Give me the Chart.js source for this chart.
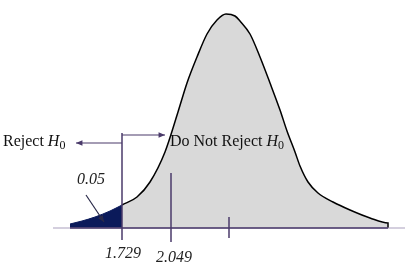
<!DOCTYPE html>
<html>
<head>
<meta charset="utf-8">
<script src="https://cdn.jsdelivr.net/npm/chart.js@4"></script>
<style>
  html, body { margin: 0; padding: 0; background: #fff; }
  #wrap { width: 418px; height: 278px; }
</style>
</head>
<body>
<div id="wrap"><canvas id="tChart"></canvas></div>
<script>
// Curve: x position along the axis, height of the density above it
const acceptX = [122, 137, 150, 165, 178, 187, 197, 207, 217, 226, 235, 240, 250, 260, 270, 280, 287, 295, 300, 308, 318, 333, 350, 370, 388, 388];
const acceptY = [23, 31, 46, 76, 116, 145, 171, 194, 208, 214, 212, 207, 194, 171, 145, 118, 97, 76, 62, 46, 35, 26, 18, 10, 5, 0];
const rejectX = [70, 82, 95, 110, 122];
const rejectY = [4, 7, 11, 17, 23];

// Vertical markers: critical value 1.729, test statistic 2.049, centre tick
const markerX = [122, 171, 229];
const markerLabels = ['1.729', '2.049', ''];
const alphaLabel = '0.05';

const lineColor = '#4a3a6a';
const navy = '#0b1a5a';

function pts(xs, ys) {
    return xs.map((x, i) => ({ x: x, y: ys[i] }));
}

function drawH0(ctx, text, x, y) {
    ctx.font = '16px "Liberation Serif", serif';
    ctx.fillText(text, x, y);
    let w = ctx.measureText(text).width;
    ctx.font = 'italic 16px "Liberation Serif", serif';
    ctx.fillText('H', x + w, y);
    w += ctx.measureText('H').width;
    ctx.font = '12px "Liberation Serif", serif';
    ctx.fillText('0', x + w, y + 4);
}

function arrow(ctx, x1, y1, x2, y2, color) {
    const a = Math.atan2(y2 - y1, x2 - x1);
    ctx.strokeStyle = color;
    ctx.fillStyle = color;
    ctx.lineWidth = 1.2;
    ctx.beginPath();
    ctx.moveTo(x1, y1);
    ctx.lineTo(x2, y2);
    ctx.stroke();
    ctx.beginPath();
    ctx.moveTo(x2, y2);
    ctx.lineTo(x2 - 7 * Math.cos(a - 0.4), y2 - 7 * Math.sin(a - 0.4));
    ctx.lineTo(x2 - 7 * Math.cos(a + 0.4), y2 - 7 * Math.sin(a + 0.4));
    ctx.closePath();
    ctx.fill();
}

const annotations = {
    id: 'annotations',
    afterDatasetsDraw(chart) {
        const ctx = chart.ctx;
        const xs = chart.scales.x;
        const ys = chart.scales.y;
        const px = v => xs.getPixelForValue(v);
        const py = v => ys.getPixelForValue(v);
        ctx.save();

        // horizontal axis
        ctx.strokeStyle = '#a99fbd';
        ctx.lineWidth = 1;
        ctx.beginPath();
        ctx.moveTo(px(53), py(0)); ctx.lineTo(px(405), py(0));
        ctx.stroke();
        ctx.strokeStyle = lineColor;
        ctx.lineWidth = 1.5;
        ctx.beginPath();
        ctx.moveTo(px(70), py(0)); ctx.lineTo(px(388), py(0));
        ctx.stroke();

        // vertical markers
        const tops = [95, 55, 11];
        const bottoms = [-12, -14, -10];
        markerX.forEach((m, i) => {
            ctx.beginPath();
            ctx.moveTo(px(m), py(tops[i]));
            ctx.lineTo(px(m), py(bottoms[i]));
            ctx.stroke();
        });

        // tick labels
        ctx.fillStyle = '#222';
        ctx.font = 'italic 16px "Liberation Serif", serif';
        ctx.textAlign = 'center';
        ctx.textBaseline = 'middle';
        ctx.fillText(markerLabels[0], px(markerX[0]) + 1, py(-26));
        ctx.fillText(markerLabels[1], px(markerX[1]) + 3, py(-30));
        ctx.fillText(alphaLabel, px(91), py(48));

        // region labels and arrows
        ctx.textAlign = 'left';
        ctx.fillStyle = '#111';
        drawH0(ctx, 'Reject ', 3, py(86));
        drawH0(ctx, 'Do Not Reject ', 170, py(86));
        arrow(ctx, px(122), py(85), px(76), py(85), lineColor);
        arrow(ctx, px(122), py(93), px(165), py(93), lineColor);
        arrow(ctx, px(86), py(33), px(104), py(6), '#2a2a4a');

        ctx.restore();
    }
};

new Chart(document.getElementById('tChart'), {
    type: 'line',
    data: {
        datasets: [
            {
                data: pts(acceptX, acceptY),
                borderColor: '#000',
                borderWidth: 1.5,
                backgroundColor: '#d9d9d9',
                fill: 'origin',
                pointRadius: 0,
                cubicInterpolationMode: 'monotone',
                order: 2
            },
            {
                data: pts(rejectX, rejectY),
                borderColor: navy,
                borderWidth: 1,
                backgroundColor: navy,
                fill: 'origin',
                pointRadius: 0,
                cubicInterpolationMode: 'monotone',
                order: 1
            }
        ]
    },
    options: {
        responsive: true,
        maintainAspectRatio: false,
        animation: false,
        layout: { padding: 0 },
        plugins: { legend: { display: false }, tooltip: { enabled: false } },
        scales: {
            x: { type: 'linear', min: 0, max: 418, display: false },
            y: { type: 'linear', min: -50, max: 228, display: false }
        }
    },
    plugins: [annotations]
});
</script>
</body>
</html>
